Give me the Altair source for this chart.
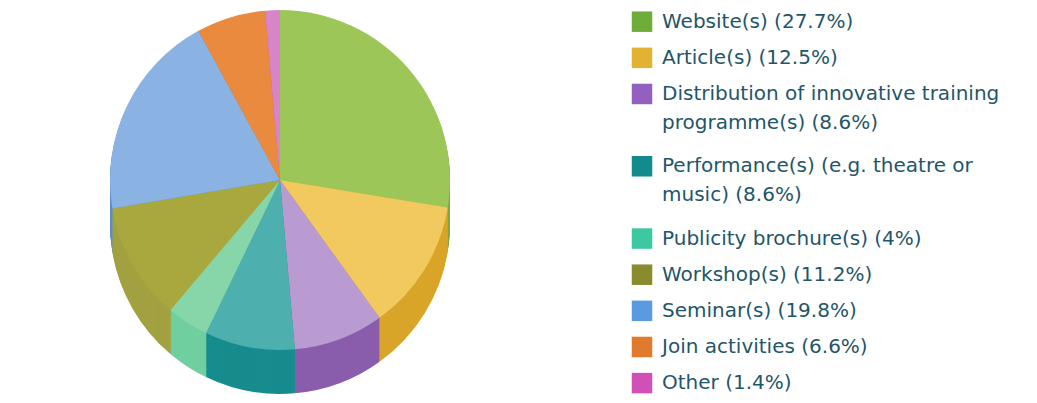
import math
import altair as alt
import pandas as pd

# ---- data ----
categories = [
    "Website(s)", "Article(s)", "Distribution of innovative training programme(s)",
    "Performance(s) (e.g. theatre or music)", "Publicity brochure(s)", "Workshop(s)",
    "Seminar(s)", "Join activities", "Other",
]
values = [27.7, 12.5, 8.6, 8.6, 4, 11.2, 19.8, 6.6, 1.4]
legend_lines = [
    ["Website(s) (27.7%)"],
    ["Article(s) (12.5%)"],
    ["Distribution of innovative training", "programme(s) (8.6%)"],
    ["Performance(s) (e.g. theatre or", "music) (8.6%)"],
    ["Publicity brochure(s) (4%)"],
    ["Workshop(s) (11.2%)"],
    ["Seminar(s) (19.8%)"],
    ["Join activities (6.6%)"],
    ["Other (1.4%)"],
]

# ---- styles ----
top_colors = ["#9cc657", "#f1c95e", "#b99bd1", "#4dafae", "#86d6aa",
              "#a9a83f", "#8ab2e2", "#e98a3e", "#d884c8"]
side_colors = ["#7eaa3c", "#d9a528", "#8a5dac", "#178c8e", "#70cf9f",
               "#a3a142", "#5a8fd0", "#d06c20", "#c050a0"]
swatch_colors = ["#6fad3b", "#e2b232", "#9360c0", "#138a8c", "#3cc8a0",
                 "#8a8a2e", "#5a9ae0", "#e07a2c", "#d050b8"]
TEXT_COLOR = "#1f566a"
CX, CY, R, DEPTH = 280, 180, 170, 44
total = sum(values)

# ---- pie (top face + stacked side layers for depth) ----
pie_rows = []
for d in range(DEPTH, -1, -1):
    for i, (c, v) in enumerate(zip(categories, values)):
        pie_rows.append({"category": c, "value": v, "order": i, "depth": d})
pie_df = pd.DataFrame(pie_rows)

theta_scale = alt.Scale(domain=[0, total], range=[0, 2 * math.pi])

base = alt.Chart(pie_df).transform_window(
    cum="sum(value)", sort=[alt.SortField("order")], groupby=["depth"], frame=[None, 0]
).transform_calculate(start="datum.cum - datum.value")

side = base.transform_filter("datum.depth > 0").mark_arc(radius=R).encode(
    theta=alt.Theta("start:Q", scale=theta_scale, stack=None),
    theta2="cum:Q",
    x=alt.value(CX),
    y=alt.Y("depth:Q", scale=alt.Scale(domain=[0, DEPTH], range=[CY, CY + DEPTH]),
            axis=None, stack=None),
    color=alt.Color("category:N", scale=alt.Scale(domain=categories, range=side_colors), legend=None),
    order=alt.Order("depth:Q", sort="descending"),
)

top = base.transform_filter("datum.depth == 0").mark_arc(radius=R).encode(
    theta=alt.Theta("start:Q", scale=theta_scale, stack=None),
    theta2="cum:Q",
    x=alt.value(CX),
    y=alt.value(CY),
    color=alt.Color("category:N", scale=alt.Scale(domain=categories, range=top_colors), legend=None),
)

pie = alt.layer(side, top).resolve_scale(color="independent").properties(width=580, height=403)

# ---- legend panel ----
leg_rows = []
u = 0
for i, lines in enumerate(legend_lines):
    for j, line in enumerate(lines):
        leg_rows.append({"category": categories[i], "line": line, "pos": u + j * 0.79, "first": j == 0})
    u += len(lines)
leg_df = pd.DataFrame(leg_rows)

yscale = alt.Scale(domain=[-0.6, u - 0.45], reverse=True)

squares = alt.Chart(leg_df).transform_filter("datum.first").mark_square(size=420, opacity=1).encode(
    x=alt.value(62),
    y=alt.Y("pos:Q", scale=yscale, axis=None),
    color=alt.Color("category:N", scale=alt.Scale(domain=categories, range=swatch_colors), legend=None),
)
texts = alt.Chart(leg_df).mark_text(
    align="left", baseline="middle", font="DejaVu Sans", fontSize=20, color=TEXT_COLOR
).encode(
    x=alt.value(82),
    y=alt.Y("pos:Q", scale=yscale, axis=None),
    text="line:N",
)
legend = alt.layer(squares, texts).properties(width=457, height=403)

chart = alt.hconcat(pie, legend, spacing=0).properties(padding=0).configure_view(stroke=None)

chart.save("out.html", embed_options={"renderer": "svg", "actions": False})
